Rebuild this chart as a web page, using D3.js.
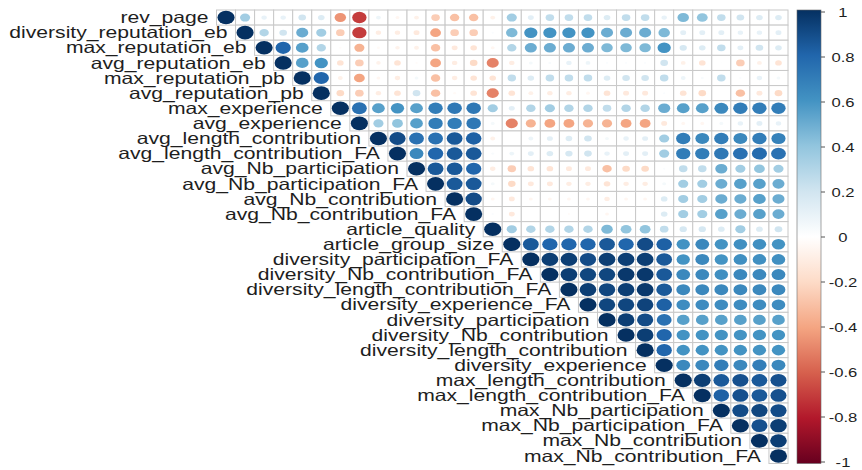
<!DOCTYPE html>
<html>
<head>
<meta charset="utf-8">
<script src="https://cdn.jsdelivr.net/npm/d3@7"></script>
<style>
body { margin: 0; background: #fff; }
svg { display: block; }
text { font-family: "Liberation Sans", Arial, Helvetica, sans-serif; fill: #1e1e1e; }
</style>
</head>
<body>
<svg id="chart" width="862" height="470"></svg>
<script>
// variable names, in the order of the matrix
const variables = [
  "rev_page", "diversity_reputation_eb", "max_reputation_eb", "avg_reputation_eb",
  "max_reputation_pb", "avg_reputation_pb", "max_experience", "avg_experience",
  "avg_length_contribution", "avg_length_contribution_FA", "avg_Nb_participation",
  "avg_Nb_participation_FA", "avg_Nb_contribution", "avg_Nb_contribution_FA",
  "article_quality", "article_group_size", "diversity_participation_FA",
  "diversity_Nb_contribution_FA", "diversity_length_contribution_FA",
  "diversity_experience_FA", "diversity_participation", "diversity_Nb_contribution",
  "diversity_length_contribution", "diversity_experience", "max_length_contribution",
  "max_length_contribution_FA", "max_Nb_participation", "max_Nb_participation_FA",
  "max_Nb_contribution", "max_Nb_contribution_FA"
];

// upper triangle: row i holds correlations with columns i+1 .. end (diagonal is 1)
const upper = [
  [0.35,0.1,0.1,0.2,0.15,-0.45,-0.7,0.08,-0.05,-0.08,-0.25,-0.3,-0.3,-0.08,0.35,0.12,0.25,0.25,0.25,0.15,0.25,0.25,0.1,0.45,0.4,0.25,0.2,0.15,0.15],
  [0.3,0.2,0.5,0.35,-0.25,-0.7,-0.1,-0.1,-0.12,-0.4,-0.25,-0.25,0.02,0.45,0.6,0.6,0.6,0.6,0.5,0.5,0.5,0.45,0.12,0.12,0.12,0.1,0.1,0.12],
  [0.8,0.55,0.3,-0.02,-0.35,-0.03,-0.07,-0.08,-0.3,-0.12,-0.15,-0.05,0.3,0.5,0.5,0.5,0.5,0.45,0.45,0.45,0.6,0.18,0.15,0.25,0.12,0.2,0.15],
  [0.55,0.6,-0.15,-0.25,-0.07,-0.15,-0.02,-0.4,-0.1,-0.2,-0.5,-0.1,0.05,0.03,0.1,0.08,0.02,0.02,0.02,0.2,-0.08,-0.15,0.01,-0.25,-0.08,-0.15],
  [0.8,-0.08,-0.4,-0.05,-0.1,0.05,-0.3,-0.1,-0.15,-0.15,0.25,0.15,0.25,0.25,0.25,0.15,0.2,0.2,0.25,0.08,0.03,0.25,0.02,0.1,0.05],
  [-0.2,-0.25,-0.1,-0.15,0.2,-0.3,-0.03,-0.15,-0.5,-0.15,-0.08,-0.1,-0.1,-0.05,-0.15,-0.12,-0.12,0.02,-0.15,-0.2,0,-0.3,-0.12,-0.2],
  [0.75,0.55,0.6,0.55,0.7,0.72,0.72,0.35,0.12,0.3,0.35,0.3,0.3,0.25,0.3,0.3,0.5,0.55,0.55,0.65,0.7,0.7,0.7],
  [0.35,0.4,0.55,0.7,0.7,0.72,0.05,-0.5,-0.35,-0.4,-0.4,-0.35,-0.35,-0.4,-0.4,-0.12,-0.05,-0.05,0.05,0.1,0.12,0.1],
  [0.9,0.75,0.75,0.85,0.82,-0.08,0,0.08,0.12,0.15,0.2,0.05,0.1,0.12,0.35,0.7,0.65,0.7,0.65,0.7,0.68],
  [0.65,0.8,0.85,0.85,0.03,0.08,0.12,0.15,0.18,0.2,0.1,0.12,0.12,0.35,0.7,0.7,0.72,0.75,0.78,0.75],
  [0.85,0.85,0.8,-0.1,-0.25,-0.15,-0.15,-0.12,-0.12,-0.3,-0.2,-0.2,0.02,0.25,0.25,0.5,0.35,0.4,0.35],
  [0.85,0.85,0.05,-0.2,-0.12,-0.12,-0.1,-0.1,-0.15,-0.1,-0.1,0.05,0.35,0.35,0.5,0.55,0.55,0.5],
  [0.9,-0.05,-0.12,-0.05,-0.05,-0.05,-0.05,-0.1,-0.05,-0.05,0.15,0.35,0.35,0.5,0.5,0.55,0.5],
  [0.02,-0.12,0,0,-0.02,0,-0.05,0,0,0.15,0.35,0.35,0.55,0.5,0.55,0.5],
  [0.35,0.3,0.3,0.3,0.3,0.45,0.4,0.4,0.25,0.18,0.18,0.15,0.35,0.15,0.2],
  [0.85,0.8,0.8,0.8,0.85,0.8,0.9,0.82,0.6,0.65,0.6,0.62,0.62,0.6],
  [0.95,0.95,0.9,0.95,0.95,0.95,0.85,0.6,0.65,0.6,0.62,0.62,0.62],
  [0.95,0.92,0.92,0.97,0.97,0.85,0.65,0.65,0.62,0.65,0.65,0.65],
  [0.95,0.92,0.95,0.97,0.85,0.65,0.65,0.65,0.65,0.65,0.65],
  [0.92,0.92,0.93,0.82,0.63,0.63,0.63,0.63,0.63,0.63],
  [0.95,0.9,0.75,0.55,0.55,0.55,0.55,0.55,0.55],
  [0.95,0.8,0.6,0.6,0.6,0.6,0.6,0.6],
  [0.8,0.6,0.6,0.6,0.6,0.6,0.6],
  [0.65,0.65,0.7,0.65,0.7,0.65],
  [0.95,0.85,0.88,0.85,0.88],
  [0.82,0.88,0.85,0.88],
  [0.9,0.92,0.9],
  [0.88,0.95],
  [0.95],
  []
];

const legendTicks = [1, 0.8, 0.6, 0.4, 0.2, 0, -0.2, -0.4, -0.6, -0.8, -1];
// RdBu ramp, from -1 to 1
const palette = ["#67001F","#B2182B","#D6604D","#F4A582","#FDDBC7","#FFFFFF",
                 "#D1E5F0","#92C5DE","#4393C3","#2166AC","#053061"];

const svg = d3.select("#chart");
const stretch = 1.28; // the picture is wider than tall, text is stretched too

let x = d3.scaleBand().domain(variables).range([216.5, 788]),
    y = d3.scaleBand().domain(variables).range([10, 463.5]),
    cw = x.bandwidth(), ch = y.bandwidth();
let color = d3.scaleLinear()
    .domain(palette.map((_, i) => -1 + i * 0.2))
    .range(palette)
    .interpolate(d3.interpolateRgb);

let cells = [];
variables.forEach((v, i) => {
    cells.push({row: v, col: v, r: 1});
    upper[i].forEach((r, k) => cells.push({row: v, col: variables[i + 1 + k], r: r}));
});

// grid
svg.append("g").selectAll("rect").data(cells).join("rect")
    .attr("x", d => x(d.col)).attr("y", d => y(d.row))
    .attr("width", cw).attr("height", ch)
    .attr("fill", "#fff").attr("stroke", "#c8c8c8").attr("stroke-width", 1);

// circles, area ~ |r|
svg.append("g").selectAll("ellipse").data(cells).join("ellipse")
    .attr("cx", d => x(d.col) + cw / 2).attr("cy", d => y(d.row) + ch / 2)
    .attr("rx", d => 0.45 * Math.sqrt(Math.abs(d.r)) * cw)
    .attr("ry", d => 0.45 * Math.sqrt(Math.abs(d.r)) * ch)
    .attr("fill", d => color(d.r));

// row labels, next to the diagonal
svg.append("g").selectAll("text").data(variables).join("text")
    .attr("transform", v => "translate(" + (x(v) - 8) + "," + (y(v) + ch / 2) + ") scale(" + stretch + ",1)")
    .attr("text-anchor", "end").attr("dominant-baseline", "central")
    .attr("font-size", 16.5)
    .text(v => v);

// colour legend
let yl = d3.scaleLinear().domain([-1, 1]).range([462, 12]);
let grad = svg.append("defs").append("linearGradient")
    .attr("id", "cbar").attr("x1", 0).attr("y1", 1).attr("x2", 0).attr("y2", 0);
grad.selectAll("stop").data(palette).join("stop")
    .attr("offset", (_, i) => i / (palette.length - 1))
    .attr("stop-color", c => c);
svg.append("rect")
    .attr("x", 797).attr("y", 10).attr("width", 24).attr("height", 453.5)
    .attr("fill", "url(#cbar)").attr("stroke", "#6a6a6a").attr("stroke-width", 0.6);
let lg = svg.append("g").selectAll("g").data(legendTicks).join("g")
    .attr("transform", v => "translate(0," + yl(v) + ")");
lg.append("line").attr("x1", 821).attr("x2", 825).attr("stroke", "#555");
lg.append("text")
    .attr("transform", "translate(843,0) scale(" + stretch + ",1)")
    .attr("text-anchor", "middle").attr("dominant-baseline", "central")
    .attr("font-size", 13)
    .text(v => String(v));
</script>
</body>
</html>
